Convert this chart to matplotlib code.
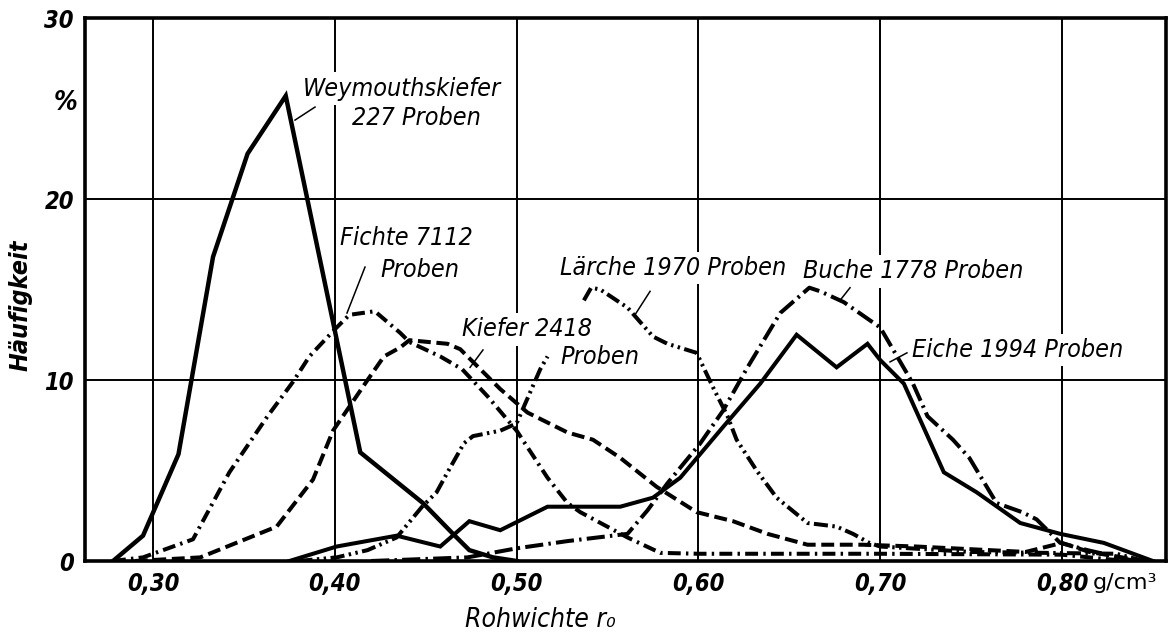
import matplotlib
matplotlib.use("Agg")
from matplotlib import pyplot as plt
import numpy as np

# Rohwichte (g/cm3) and Häufigkeit (%)
wey_x = [0.278, 0.2945, 0.314, 0.333, 0.352, 0.373, 0.414, 0.4485, 0.465, 0.474, 0.487, 0.50]
wey_y = [0, 1.4, 5.9, 16.8, 22.5, 25.7, 6.0, 3.2, 1.5, 0.6, 0.2, 0]

fichte_x = [0.278, 0.2945, 0.322, 0.342, 0.363, 0.377, 0.386, 0.40, 0.408, 0.422, 0.436,
            0.441, 0.458, 0.470, 0.484, 0.50, 0.517, 0.528, 0.535, 0.561, 0.579, 0.60,
            0.70, 0.80, 0.835]
fichte_y = [0, 0.2, 1.2, 4.9, 8.0, 9.9, 11.3, 12.8, 13.6, 13.8, 12.6,
            12.1, 11.3, 10.6, 9.1, 7.2, 4.6, 3.2, 2.7, 1.3, 0.45, 0.4,
            0.4, 0.35, 0]

kiefer_x = [0.29, 0.326, 0.368, 0.388, 0.399, 0.418, 0.427, 0.436, 0.441, 0.462, 0.469,
            0.478, 0.491, 0.506, 0.528, 0.542, 0.557, 0.577, 0.599, 0.619, 0.638, 0.660,
            0.69, 0.72, 0.78, 0.80, 0.815, 0.845]
kiefer_y = [0, 0.2, 1.9, 4.5, 7.2, 10.0, 11.3, 11.8, 12.2, 12.0, 11.7,
            10.8, 9.5, 8.2, 7.1, 6.7, 5.7, 4.1, 2.7, 2.2, 1.5, 0.9,
            0.9, 0.8, 0.5, 1.0, 0.5, 0]

laerche_x = [0.38, 0.401, 0.418, 0.434, 0.448, 0.456, 0.462, 0.471, 0.476, 0.491, 0.50,
             0.503, 0.513, 0.517, 0.527, 0.537, 0.541, 0.546, 0.561, 0.575, 0.583, 0.599,
             0.608, 0.616, 0.621, 0.632, 0.643, 0.660, 0.676, 0.685, 0.694, 0.70, 0.75,
             0.83, 0.845]
laerche_y = [0, 0.2, 0.6, 1.3, 3.0, 3.8, 4.9, 6.5, 6.9, 7.2, 7.6,
             8.3, 10.6, 11.3, np.nan, 14.4, 15.1, 15.0, 14.0, 12.4, 12.0, 11.5,
             9.6, 8.0, 6.7, 5.0, 3.5, 2.1, 1.9, 1.5, 1.0, 0.8, 0.5,
             0.4, 0]

buche_x = [0.42, 0.473, 0.50, 0.528, 0.561, 0.572, 0.583, 0.601, 0.6135, 0.627, 0.645,
           0.661, 0.667, 0.680, 0.70, 0.718, 0.726, 0.740, 0.749, 0.764, 0.778, 0.786,
           0.799, 0.814, 0.84]
buche_y = [0, 0.2, 0.7, 1.1, 1.5, 2.8, 4.3, 6.5, 8.3, 10.7, 13.7,
           15.1, 14.9, 14.3, 12.9, 9.8, 8.0, 6.7, 5.7, 3.2, 2.7, 2.3,
           1.0, 0.6, 0]

eiche_x = [0.375, 0.401, 0.434, 0.458, 0.474, 0.491, 0.517, 0.557, 0.575, 0.590, 0.6135,
           0.634, 0.654, 0.676, 0.693, 0.70, 0.713, 0.735, 0.753, 0.777, 0.799, 0.823, 0.85]
eiche_y = [0, 0.8, 1.4, 0.8, 2.2, 1.7, 3.0, 3.0, 3.5, 4.6, 7.4,
           9.8, 12.5, 10.7, 12.0, 11.1, 9.8, 4.9, 3.8, 2.1, 1.5, 1.0, 0]

x_ticks = [0.30, 0.40, 0.50, 0.60, 0.70, 0.80]
x_labels = ["0,30", "0,40", "0,50", "0,60", "0,70", "0,80"]
y_ticks = [0, 10, 20, 30]

font = dict(family="DejaVu Sans", fontstretch="condensed", style="oblique")

fig = plt.figure(figsize=(11.68, 6.41), dpi=100)
ax = fig.add_axes([0.0728, 0.1248, 0.9255, 0.8471])

lw = 2.9
ax.plot(wey_x, wey_y, color="black", lw=lw + 0.3, solid_joinstyle="miter", zorder=3)
ax.plot(fichte_x, fichte_y, color="black", lw=lw, linestyle=(0, (3.2, 1.3, 0.6, 1.3)), zorder=3)
ax.plot(kiefer_x, kiefer_y, color="black", lw=lw, linestyle=(0, (3.2, 1.4)), zorder=3)
ax.plot(laerche_x, laerche_y, color="black", lw=lw, linestyle=(0, (3.5, 1.1, 0.6, 1.1, 0.6, 1.1)), zorder=3)
ax.plot(buche_x, buche_y, color="black", lw=lw, linestyle=(0, (4.5, 1.3, 0.6, 1.3)), zorder=3)
ax.plot(eiche_x, eiche_y, color="black", lw=lw, solid_joinstyle="miter", zorder=3)

ax.set_xlim(0.2626, 0.8572)
ax.set_ylim(0, 30)
ax.set_xticks(x_ticks)
ax.set_xticklabels(x_labels, fontsize=17, fontweight="bold", **font)
ax.set_yticks(y_ticks)
ax.set_yticklabels([str(v) for v in y_ticks], fontsize=17, fontweight="bold", **font)
ax.tick_params(length=0, pad=8)
ax.grid(True, color="black", lw=1.4)
ax.set_axisbelow(True)
for s in ax.spines.values():
    s.set_linewidth(2.6)

box = dict(facecolor="white", edgecolor="none", pad=3)
lab = dict(fontsize=18, color="black", zorder=2, bbox=box, ha="left", va="center", **font)

ax.text(0.3825, 26.1, "Weymouthskiefer", **lab)
ax.text(0.4095, 24.5, "227 Proben", **lab)
ax.text(0.4029, 17.85, "Fichte 7112", **lab)
ax.text(0.4249, 16.1, "Proben", **lab)
ax.text(0.4700, 12.8, "Kiefer 2418", **lab)
ax.text(0.5239, 11.27, "Proben", **lab)
ax.text(0.5239, 16.2, "Lärche 1970 Proben", **lab)
ax.text(0.6575, 16.0, "Buche 1778 Proben", **lab)
ax.text(0.7175, 11.65, "Eiche 1994 Proben", **lab)

# leader lines from labels to curves
leaders = [((0.3781, 24.36), (0.3891, 25.08)),
           ((0.4067, 13.70), (0.4166, 16.24)),
           ((0.4744, 10.70), (0.4815, 11.66)),
           ((0.5651, 13.60), (0.5734, 14.90)),
           ((0.6779, 14.40), (0.6834, 15.10)),
           ((0.7054, 11.00), (0.7147, 11.50))]
for (x0, y0), (x1, y1) in leaders:
    ax.plot([x0, x1], [y0, y1], color="black", lw=1.1, zorder=4)

fig.text(0.0565, 0.8398, "%", fontsize=19, fontweight="bold", ha="center", va="center", **font)
fig.text(0.0175, 0.5242, "Häufigkeit", fontsize=18, fontweight="bold", rotation=90,
         ha="center", va="center", **font)
fig.text(0.4623, 0.0328, "Rohwichte r₀", fontsize=19, ha="center", va="center", **font)
fig.text(0.9358, 0.0905, "g/cm³", fontsize=16, ha="left", va="center", family="DejaVu Sans")

fig.savefig("out.png", dpi=100)
